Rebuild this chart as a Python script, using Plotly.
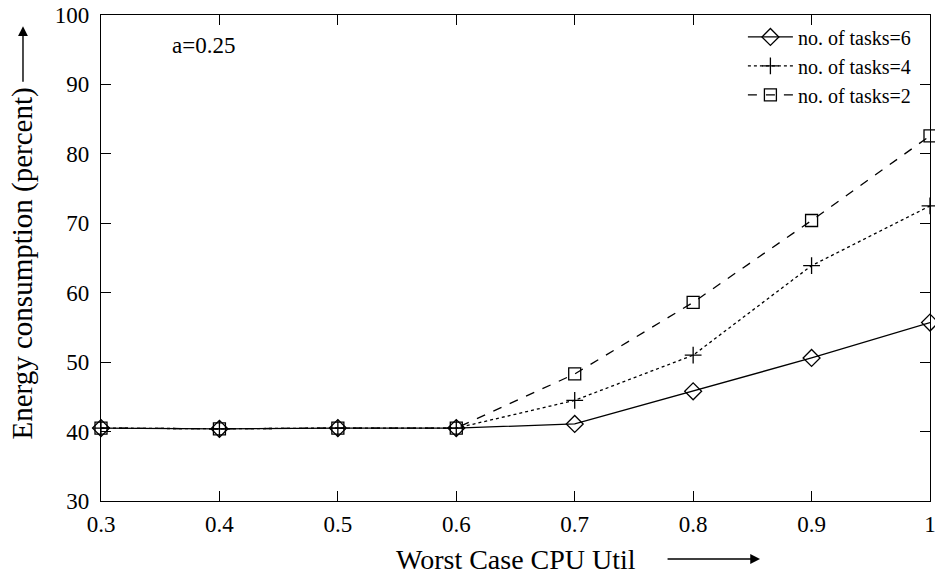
import plotly.graph_objects as go

util = [0.3, 0.4, 0.5, 0.6, 0.7, 0.8, 0.9, 1.0]
tasks6 = [40.5, 40.4, 40.5, 40.5, 41.1, 45.8, 50.6, 55.7]
tasks4 = [40.5, 40.4, 40.5, 40.5, 44.5, 51.0, 63.9, 72.5]
tasks2 = [40.5, 40.4, 40.5, 40.5, 48.3, 58.6, 70.4, 82.6]
x_ticks = [0.3, 0.4, 0.5, 0.6, 0.7, 0.8, 0.9, 1.0]
x_tick_labels = ["0.3", "0.4", "0.5", "0.6", "0.7", "0.8", "0.9", "1"]
y_ticks = [30, 40, 50, 60, 70, 80, 90, 100]

FONT = "Liberation Serif, Times New Roman, serif"

fig = go.Figure()
fig.add_trace(go.Scatter(
    x=util, y=tasks6, name="no. of tasks=6", mode="lines+markers",
    line=dict(color="black", width=1.3, dash="solid"),
    marker=dict(symbol="diamond-open", size=13, color="black", line=dict(width=1.3)),
    cliponaxis=False))
fig.add_trace(go.Scatter(
    x=util, y=tasks4, name="no. of tasks=4", mode="lines+markers",
    line=dict(color="black", width=1.3, dash="dot"),
    marker=dict(symbol="cross-thin-open", size=12, color="black", line=dict(width=1.3, color="black")),
    cliponaxis=False))
fig.add_trace(go.Scatter(
    x=util, y=tasks2, name="no. of tasks=2", mode="lines+markers",
    line=dict(color="black", width=1.3, dash="dash"),
    marker=dict(symbol="square-open", size=12, color="black", line=dict(width=1.3)),
    cliponaxis=False))

axis_common = dict(
    showline=True, linecolor="black", linewidth=1.3, mirror="ticks",
    ticks="inside", ticklen=10, tickcolor="black", tickwidth=1.2,
    showgrid=False, zeroline=False, automargin=False,
    ticklabeloverflow="allow",
    tickfont=dict(family=FONT, size=23, color="black"),
)

fig.update_layout(
    width=935, height=580,
    paper_bgcolor="white", plot_bgcolor="white",
    margin=dict(l=101, r=5, t=15, b=79, autoexpand=False),
    font=dict(family=FONT, size=23, color="black"),
    showlegend=True,
    legend=dict(x=0.983, y=0.995, xanchor="right", yanchor="top",
                bgcolor="rgba(0,0,0,0)", font=dict(family=FONT, size=20),
                tracegroupgap=0, itemwidth=45),
    xaxis=dict(range=[0.3, 1.0], tickvals=x_ticks, ticktext=x_tick_labels,
               ticklabelstandoff=2, **axis_common),
    yaxis=dict(range=[30, 100], tickvals=y_ticks, ticklabelstandoff=6, **axis_common),
)

fig.add_annotation(xref="paper", yref="paper", x=0.083, y=0.938, text="a=0.25",
                   showarrow=False, font=dict(family=FONT, size=23), xanchor="left", yanchor="middle")
fig.add_annotation(xref="paper", yref="paper", x=0.5, y=-0.121, text="Worst Case CPU Util",
                   showarrow=False, font=dict(family=FONT, size=28), xanchor="center", yanchor="middle")
fig.add_annotation(xref="paper", yref="paper", x=-0.0941, y=0.4887, text="Energy consumption (percent)",
                   showarrow=False, textangle=-90, font=dict(family=FONT, size=29),
                   xanchor="center", yanchor="middle")
# x-axis arrow
fig.add_annotation(xref="paper", yref="paper", x=0.795, y=-0.1193, ax=-94, ay=0,
                   axref="pixel", ayref="pixel", text="", showarrow=True,
                   arrowhead=2, arrowsize=1.4, arrowwidth=1.4, arrowcolor="black")
# y-axis arrow
fig.add_annotation(xref="paper", yref="paper", x=-0.0941, y=0.977, ax=0, ay=57,
                   axref="pixel", ayref="pixel", text="", showarrow=True,
                   arrowhead=2, arrowsize=1.4, arrowwidth=1.4, arrowcolor="black")

fig.write_html("out.html", config={"displayModeBar": False},
               post_script="document.body.style.margin='0';")
